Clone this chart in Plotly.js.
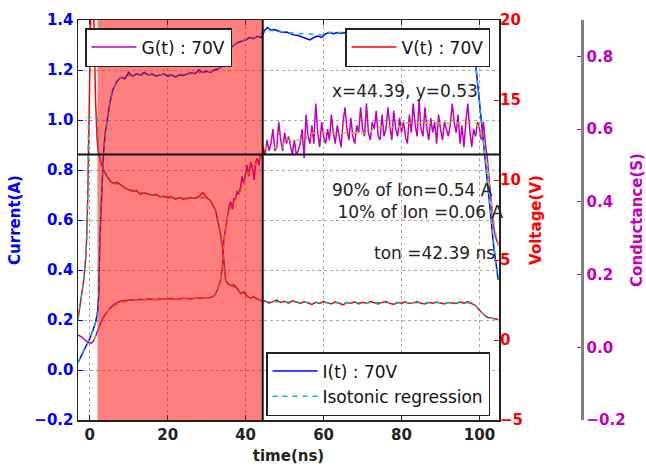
<!DOCTYPE html>
<html>
<head>
<meta charset="utf-8">
<script src="https://cdn.plot.ly/plotly-3.0.1.min.js"></script>
<style>html,body{margin:0;padding:0;background:#fff;}#chart{width:646px;height:467px;}</style>
</head>
<body>
<div id="chart"></div>
<script>
// ---- Current I(t) (A), left axis ----
const tI = [-3,-2.5,-2,-1.5,-1,-0.5,0,0.5,1,1.5,2,2.3,2.6,3,3.5,4,4.6,5.2,5.9,7,8,9,10,11,12,13,14,15,16,17,18,19,20,21,22,23,24,25,26,27,28,29,30,31,32,33,34,34.5,35,36,37,38,39,40,41,42,43,44,45,45.6,46.5,47.5,48.5,49.5,50.5,51.5,52.5,53.5,54.5,55.5,56.5,57.5,58.5,59.5,60.5,61.5,62.5,63.5,64.5,65.5,66.5,67.5,68.5,69.5,70.5,71.5,72.5,73.5,74.5,75.5,76.5,77.5,78.5,79.5,80.5,81.5,82.5,83.5,84.5,85.5,86.5,87.5,88.5,89.5,90.5,91.5,92.5,93.5,94.5,95.5,96.5,97.5,98.2,98.9,100,101,102,103,103.6,104.2,104.8];
const I_vals = [0.03,0.045,0.06,0.075,0.09,0.108,0.125,0.145,0.165,0.19,0.23,0.29,0.52,0.70,0.86,0.95,1.01,1.07,1.12,1.155,1.17,1.165,1.19,1.175,1.185,1.18,1.19,1.18,1.185,1.175,1.18,1.185,1.175,1.18,1.172,1.18,1.178,1.183,1.19,1.185,1.2,1.19,1.195,1.19,1.2,1.205,1.215,1.24,1.27,1.285,1.3,1.31,1.315,1.32,1.33,1.325,1.335,1.33,1.36,1.37,1.36,1.362,1.355,1.35,1.352,1.345,1.34,1.338,1.332,1.328,1.32,1.33,1.336,1.33,1.345,1.35,1.345,1.35,1.346,1.35,1.355,1.35,1.345,1.35,1.355,1.35,1.352,1.345,1.35,1.355,1.35,1.348,1.352,1.355,1.35,1.346,1.352,1.355,1.35,1.348,1.355,1.352,1.35,1.356,1.352,1.348,1.352,1.355,1.35,1.352,1.348,1.345,1.32,1.24,1.07,0.92,0.76,0.6,0.5,0.42,0.36];

// ---- Isotonic regression of I(t) ----
const tIsoI = [-3,-2,-1,0,1,1.5,2,2.3,2.6,3,3.5,4,4.6,5.2,5.9,7,8,10,15,20,25,28,32,33,34,34.5,35,36,37,38,39,40,41,43,44.4,45,49,50,60,61,97.5,98.2,98.9,100,101,102,103,103.6,104.2,104.8];
const isoI_vals = [0.03,0.06,0.09,0.125,0.165,0.19,0.23,0.29,0.52,0.70,0.86,0.95,1.01,1.07,1.12,1.155,1.17,1.178,1.18,1.18,1.183,1.19,1.195,1.205,1.215,1.24,1.27,1.285,1.3,1.31,1.315,1.32,1.328,1.332,1.35,1.36,1.355,1.35,1.34,1.35,1.35,1.32,1.24,1.07,0.92,0.76,0.6,0.5,0.42,0.36];

// ---- Voltage V(t) (V), right axis ----
const tV = [-3,-2.8,-2.4,-2,-1.5,-1,-0.8,-0.5,-0.3,-0.1,0,0.3,0.6,0.9,1.1,1.5,1.9,2.3,3,3.6,4.5,5.4,6,7,8,9,10,11,12,13,14,15,16,17,18,19,20,21,22,23,24,25,26,27,28,29,29.5,30,31,32.3,33.1,33.6,34.1,34.4,34.9,35.5,36.2,37,37.9,38.7,39.5,40.3,41.3,42,43,44.4,45,46,47,48,49,50,51,52,53,54,55,56,57,58,59,60,61,62,63,64,65,66,67,68,69,70,71,72,73,74,75,76,77,78,79,80,81,82,83,84,85,86,87,88,89,90,91,92,93,94,95,96,97,98,99,99.5,100.5,101,102,103,104,104.8];
const V_vals = [1.3,1.6,2.2,2.8,3.8,5.2,6.2,9,13,17,20,24,25,22,19,15,12.5,11.6,11.0,10.6,10.2,9.9,9.8,9.85,9.7,9.5,9.4,9.3,9.35,9.1,9.2,9.1,9.05,9.1,8.95,9.0,8.9,8.95,8.8,8.9,8.8,8.85,8.9,8.85,8.95,9.2,9.1,8.9,8.7,8.1,7.25,6.6,5.75,4.75,3.7,3.5,3.4,3.45,3.2,2.9,3.0,2.75,2.6,2.7,2.56,2.4,2.45,2.3,2.4,2.5,2.35,2.42,2.3,2.45,2.38,2.28,2.4,2.3,2.22,2.35,2.28,2.4,2.32,2.25,2.38,2.3,2.2,2.35,2.3,2.38,2.25,2.35,2.3,2.4,2.32,2.25,2.35,2.4,2.3,2.22,2.35,2.3,2.38,2.28,2.32,2.4,2.3,2.25,2.35,2.3,2.38,2.3,2.25,2.35,2.3,2.28,2.38,2.3,2.4,2.3,2.15,2.0,1.7,1.6,1.42,1.38,1.3,1.28];

// ---- Isotonic regression of V(t) ----
const tIsoV = [-3,-2.8,-2.4,-2,-1.5,-1,-0.8,-0.5,-0.3,1.9,2.3,3,3.6,4.5,5.4,6,8,10,12,15,20,25,28,30,31,32.3,33.1,33.6,34.1,34.4,34.9,35.5,36.2,37.9,38.7,40.3,41.3,43,44.4,50,60,70,80,90,98,99,99.5,100.5,101,102,103,104,104.8];
const isoV_vals = [1.3,1.6,2.2,2.8,3.8,5.2,6.2,9,13.9,13.9,11.6,11.0,10.6,10.2,9.9,9.8,9.7,9.4,9.3,9.1,8.9,8.85,8.9,8.9,8.7,8.1,7.25,6.6,5.75,4.75,3.7,3.5,3.4,3.2,2.9,2.75,2.6,2.56,2.4,2.36,2.33,2.33,2.32,2.32,2.32,2.15,2.0,1.7,1.6,1.42,1.38,1.3,1.28];

// ---- Conductance G(t) (S), third axis ----
const tG = [-3,-2,-1,0,0.5,1,1.5,2,2.5,3,3.5,4,4.6,5,6,7,8,9,10,11,12,13,14,15,16,17,18,19,20,21,22,23,24,25,26,27,28,29,30,31,32,32.8,33.6,34.1,34.4,35,35.4,35.8,36.2,36.6,37,37.4,37.8,38.2,38.7,39.1,39.5,40,40.4,40.8,41.3,41.8,42.2,42.6,43,43.4,43.8,44.2,
  44.5,45,45.5,46,46.5,47,47.5,48,48.5,49,49.5,50,50.5,51,51.5,52,52.5,53,53.5,54,54.5,55,55.5,56,56.5,57,57.5,58,58.5,59,59.5,60,60.5,61,61.5,62,62.5,63,63.5,64,64.5,65,65.5,66,66.5,67,67.5,68,68.5,69,69.5,70,70.5,71,71.5,72,72.5,73,73.5,74,74.5,75,75.5,76,76.5,77,77.5,78,78.5,79,79.5,80,80.5,81,81.5,82,82.5,83,83.5,84,84.5,85,85.5,86,86.5,87,87.5,88,88.5,89,89.5,90,90.5,91,91.5,92,92.5,93,93.5,94,94.5,95,95.5,96,96.5,97,97.5,98,98.5,99,99.5,100,100.5,101,101.5,102,102.5,103,103.5,104,104.5,105];
const G_vals = [0.034,0.028,0.018,0.012,0.012,0.018,0.03,0.045,0.06,0.072,0.083,0.09,0.097,0.105,0.115,0.123,0.127,0.129,0.13,0.131,0.13,0.132,0.131,0.133,0.132,0.131,0.133,0.132,0.133,0.134,0.132,0.133,0.135,0.134,0.133,0.135,0.136,0.135,0.136,0.137,0.142,0.158,0.185,0.23,0.295,0.34,0.36,0.39,0.40,0.38,0.41,0.405,0.43,0.42,0.44,0.47,0.45,0.48,0.50,0.47,0.51,0.49,0.46,0.51,0.52,0.50,0.53,0.52,
  0.55,0.53,0.57,0.54,0.56,0.60,0.54,0.55,0.62,0.57,0.54,0.59,
  0.56,0.58,0.55,0.53,0.57,0.53,0.54,0.56,0.60,0.52,0.64,0.58,
  0.56,0.61,0.56,0.67,0.59,0.55,0.62,0.58,0.56,0.60,0.57,0.64,
  0.59,0.56,0.61,0.58,0.55,0.62,0.66,0.60,0.57,0.63,0.58,0.56,
  0.61,0.59,0.66,0.60,0.58,0.67,0.59,0.57,0.62,0.60,0.65,0.58,
  0.57,0.64,0.58,0.60,0.66,0.61,0.57,0.65,0.60,0.58,0.63,0.59,
  0.62,0.58,0.56,0.64,0.59,0.67,0.61,0.58,0.68,0.60,0.58,0.66,
  0.60,0.57,0.63,0.59,0.62,0.56,0.64,0.60,0.57,0.62,0.60,0.58,
  0.61,0.67,0.62,0.59,0.64,0.56,0.61,0.55,0.62,0.67,0.60,0.55,
  0.60,0.58,0.62,0.60,0.57,0.62,0.56,0.52,0.46,0.40,0.34,0.31,
  0.29,0.28];

// ---- Isotonic regression of G(t) ----
const tIsoG = [1,2,3,4,5,6,8,10,12,15,20,25,30,32,32.8,33.6,34.1,34.4,35,35.4,36.2,37.4,38.7,39.5,40.8,42,43,44.4,45,49.5,50,55.5,56,72,73,80,81,99,100,101,102,103,104,105];
const isoG_vals = [0.02,0.045,0.07,0.09,0.105,0.113,0.122,0.127,0.129,0.131,0.132,0.134,0.136,0.14,0.158,0.185,0.23,0.295,0.34,0.36,0.39,0.405,0.43,0.45,0.48,0.495,0.51,0.53,0.548,0.548,0.57,0.57,0.589,0.589,0.606,0.606,0.617,0.617,0.6,0.57,0.5,0.4,0.32,0.28];

// ---- Axis ticks and markers ----
const xTicks = [0,20,40,60,80,100];
const currentTicks = [-0.2,0,0.2,0.4,0.6,0.8,1.0,1.2,1.4];
const voltageTicks = [-5,0,5,10,15,20];
const condTicks = [-0.2,0,0.2,0.4,0.6,0.8];
const shadeStart = 2.0, tOnMark = 44.39, gMark = 0.53;

const BLUE = '#0000ff', RED = '#ff0000', MAG = '#bf00bf', CYAN = '#00bfbf', YEL = '#bfbf00';
const FONT = 'DejaVu Sans, Bitstream Vera Sans, sans-serif';

const traces = [
  {x: tI, y: I_vals, yaxis: 'y', mode: 'lines', name: 'I(t) : 70V', legend: 'legend3', line: {color: BLUE, width: 1.5}},
  {x: tIsoI, y: isoI_vals, yaxis: 'y', mode: 'lines', name: 'Isotonic regression', legend: 'legend3', line: {color: CYAN, width: 1.5, dash: '5px,5px'}},
  {x: tV, y: V_vals, yaxis: 'y2', mode: 'lines', name: 'V(t) : 70V', legend: 'legend2', line: {color: RED, width: 1.5}},
  {x: tIsoV, y: isoV_vals, yaxis: 'y2', mode: 'lines', name: 'isoV', showlegend: false, line: {color: CYAN, width: 1.5, dash: '5px,5px'}},
  {x: tG, y: G_vals, yaxis: 'y3', mode: 'lines', name: 'G(t) : 70V', legend: 'legend', line: {color: MAG, width: 1.5}},
  {x: tIsoG, y: isoG_vals, yaxis: 'y3', mode: 'lines', name: 'isoG', showlegend: false, line: {color: YEL, width: 1.5, dash: '5px,5px'}}
];

const plotW = 646 - 78 - 40;
const legendBase = {bgcolor: '#ffffff', bordercolor: '#222', borderwidth: 1.5, font: {family: FONT, size: 17, color: '#111'}, itemwidth: 45, yanchor: 'top'};
const annFont = {family: FONT, size: 17, color: '#222'};

const layout = {
  width: 646, height: 467,
  margin: {l: 78, r: 40, t: 20, b: 47},
  paper_bgcolor: '#ffffff', plot_bgcolor: '#ffffff',
  font: {family: FONT, size: 17, color: '#111'},
  xaxis: {
    domain: [0, (499 - 78) / plotW], range: [-3, 105], tickvals: xTicks,
    ticks: 'inside', ticklen: 5, tickcolor: '#222', showline: true, linecolor: '#222', linewidth: 1.5, mirror: 'ticks',
    showgrid: true, gridcolor: '#a8a8a8', griddash: 'dot', gridwidth: 1, zeroline: false,
    tickfont: {family: FONT, size: 15, weight: 'bold', color: '#222'},
    title: {text: 'time(ns)', font: {family: FONT, size: 15, weight: 'bold', color: '#222'}, standoff: 8}
  },
  yaxis: {
    range: [-0.2, 1.4], tickvals: currentTicks, tickformat: '.1f',
    ticks: 'inside', ticklen: 5, tickcolor: BLUE, showline: true, linecolor: '#222', linewidth: 1.5, mirror: true,
    showgrid: true, gridcolor: '#a8a8a8', griddash: 'dot', gridwidth: 1, zeroline: false,
    tickfont: {family: FONT, size: 15, weight: 'bold', color: BLUE},
    title: {text: 'Current(A)', font: {family: FONT, size: 15, weight: 'bold', color: BLUE}, standoff: 10}
  },
  yaxis2: {
    overlaying: 'y', side: 'right', anchor: 'x', range: [-5, 20], tickvals: voltageTicks,
    ticks: 'inside', ticklen: 5, tickcolor: RED, showline: false, showgrid: false, zeroline: false,
    tickfont: {family: FONT, size: 15, weight: 'bold', color: RED},
    title: {text: 'Voltage(V)', font: {family: FONT, size: 15, weight: 'bold', color: RED}, standoff: 8}
  },
  yaxis3: {
    overlaying: 'y', side: 'right', anchor: 'free', position: (582 - 78) / plotW, range: [-0.2, 0.9], tickvals: condTicks, tickformat: '.1f',
    ticks: 'inside', ticklen: 4, tickcolor: MAG, showline: true, linecolor: '#808080', linewidth: 2.5, showgrid: false, zeroline: false,
    tickfont: {family: FONT, size: 15, weight: 'bold', color: MAG},
    title: {text: 'Conductance(S)', font: {family: FONT, size: 15, weight: 'bold', color: MAG}, standoff: 8}
  },
  legend: Object.assign({}, legendBase, {x: (85 - 78) / plotW, y: (420 - 28) / 400, xanchor: 'left'}),
  legend2: Object.assign({}, legendBase, {x: (490 - 78) / plotW, y: (420 - 28) / 400, xanchor: 'right'}),
  legend3: Object.assign({}, legendBase, {x: (490 - 78) / plotW, y: (420 - 352) / 400, xanchor: 'right'}),
  shapes: [
    {type: 'rect', layer: 'above', xref: 'x', yref: 'paper', x0: shadeStart, x1: tOnMark, y0: 0, y1: 1, fillcolor: RED, opacity: 0.5, line: {width: 0}},
    {type: 'line', layer: 'above', xref: 'paper', yref: 'y3', x0: 0, x1: (499 - 78) / plotW, y0: gMark, y1: gMark, line: {color: '#111', width: 2}},
    {type: 'line', layer: 'above', xref: 'x', yref: 'paper', x0: tOnMark, x1: tOnMark, y0: 0, y1: 1, line: {color: '#111', width: 2}}
  ],
  annotations: [
    {text: 'x=44.39, y=0.53', xref: 'paper', yref: 'paper', x: (330 - 78) / plotW, y: (420 - 91) / 400, xanchor: 'left', yanchor: 'middle', showarrow: false, font: annFont},
    {text: '90% of Ion=0.54 A<br>\u00a010% of Ion =0.06 A', align: 'left', xref: 'paper', yref: 'paper', x: (330 - 78) / plotW, y: (420 - 201) / 400, xanchor: 'left', yanchor: 'middle', showarrow: false, font: annFont},
    {text: 'ton =42.39 ns', xref: 'paper', yref: 'paper', x: (372 - 78) / plotW, y: (420 - 253) / 400, xanchor: 'left', yanchor: 'middle', showarrow: false, font: annFont}
  ]
};

Plotly.newPlot('chart', traces, layout, {displayModeBar: false, staticPlot: true});
</script>
</body>
</html>
